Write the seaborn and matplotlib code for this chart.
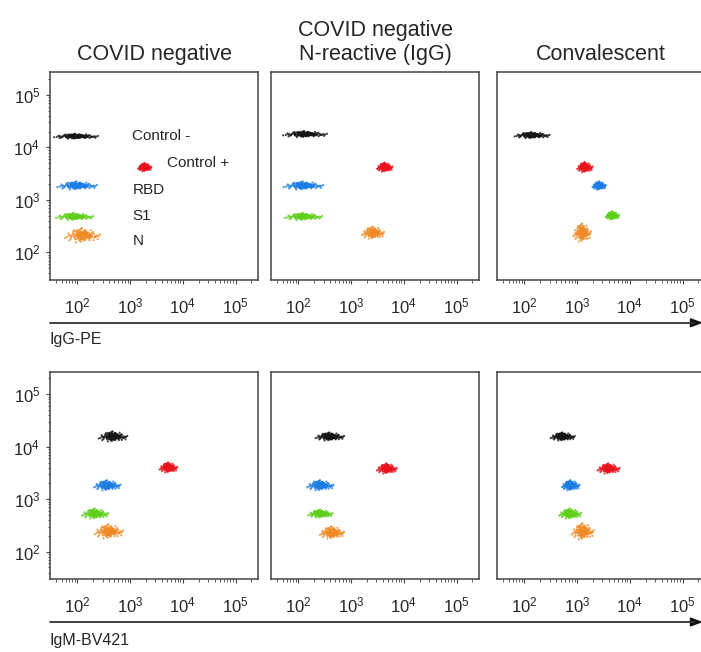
import numpy as np
import pandas as pd
import matplotlib.pyplot as plt
import seaborn as sns
from matplotlib.ticker import LogLocator, NullFormatter

populations = ["Control -", "Control +", "RBD", "S1", "N"]
pop_colors = ["#151515", "#e8121c", "#1c7ce2", "#5fcf1c", "#f08a26"]
titles = ["COVID negative", "COVID negative\nN-reactive (IgG)", "Convalescent"]
channels = ["IgG-PE", "IgM-BV421"]

# cluster centres (log10 intensity), one row per panel, one value per population
igg_x = [[1.98, 3.28, 2.00, 1.95, 2.10],
         [2.13, 3.64, 2.10, 2.10, 3.42],
         [2.15, 3.15, 3.42, 3.67, 3.10]]
igg_y = [[4.21, 3.62, 3.27, 2.68, 2.32],
         [4.25, 3.62, 3.27, 2.68, 2.37],
         [4.23, 3.62, 3.27, 2.70, 2.37]]
igm_x = [[2.68, 3.73, 2.57, 2.34, 2.60],
         [2.60, 3.68, 2.42, 2.42, 2.64],
         [2.73, 3.60, 2.88, 2.87, 3.11]]
igm_y = [[4.19, 3.60, 3.26, 2.72, 2.38],
         [4.19, 3.58, 3.26, 2.72, 2.36],
         [4.19, 3.58, 3.26, 2.72, 2.38]]

# cluster spread (log10 units)
igg_xsd = [[0.20, 0.06, 0.18, 0.17, 0.16],
           [0.20, 0.07, 0.18, 0.17, 0.10],
           [0.16, 0.07, 0.06, 0.06, 0.08]]
igg_ysd = [[0.025, 0.04, 0.04, 0.035, 0.07],
           [0.03, 0.045, 0.04, 0.035, 0.06],
           [0.03, 0.05, 0.04, 0.04, 0.09]]
igm_xsd = [[0.13, 0.08, 0.12, 0.12, 0.13],
           [0.13, 0.09, 0.12, 0.11, 0.11],
           [0.11, 0.10, 0.08, 0.10, 0.10]]
igm_ysd = [[0.05, 0.05, 0.05, 0.05, 0.07],
           [0.04, 0.05, 0.05, 0.04, 0.06],
           [0.04, 0.05, 0.05, 0.05, 0.08]]

# shape of one bead cluster (event offsets, in units of spread)
event_dx = [-0.12, 0.85, -1.43, 0.31, 1.72, -0.66, 0.04, -0.98, 1.21, -0.27,
            0.58, -1.85, 0.93, -0.41, 0.17, 1.46, -1.12, 0.69, -0.05, -0.79,
            2.05, 0.36, -1.58, 0.11, 1.04, -0.33, -0.89, 0.52, 1.33, -0.18,
            0.77, -1.27, 0.24, -0.56, 1.61, -2.10, 0.45, -0.72, 0.08, 1.12,
            -1.01, 0.63, -0.24, 1.88, -0.47, 0.29, -1.36, 0.98, -0.09, 0.41,
            -0.61, 1.27, -1.69, 0.15, 0.71, -0.37, -1.07, 0.55, 1.52, -0.20,
            0.87, -0.83, 0.02, 1.39, -1.49, 0.34, -0.52, 0.66, -1.19, 0.21,
            1.79, -0.29, -0.94, 0.48, 0.12, -1.61, 1.09, -0.43, 0.81, -0.07]
event_dy = [0.54, 0.31, -0.88, -1.22, 0.07, 1.41, -0.64, -0.26, 0.95, 1.67,
            -0.11, -0.39, 1.53, 0.72, -0.44, -0.19, 1.05, 0.83, -0.61, -1.78,
            0.33, 0.06, -1.28, -0.57, 0.14, 1.09, -0.97, -0.38, 0.49, 1.86,
            -0.71, -0.02, 1.31, 0.81, -0.22, -0.66, 0.92, 1.19, -0.48, -0.28,
            1.44, 0.11, -0.74, -0.16, 1.52, 1.02, -0.43, -0.67, 2.01, 0.34,
            -0.09, -1.19, 0.58, 0.92, -0.53, -1.34, 0.27, 0.85, -0.36, -1.63,
            0.17, 1.11, -0.76, -0.47, 0.08, 1.38, -0.69, -0.24, 0.59, 1.46,
            -0.99, -0.31, 0.41, 0.84, -1.27, -0.05, 0.62, 0.19, -1.23, -0.88]

# dense core events (same offsets, transposed, tighter)
core_dx = [v * 0.55 for v in event_dy]
core_dy = [v * 0.55 for v in event_dx]

rows = []
for r, (cx, cy, sx, sy) in enumerate([(igg_x, igg_y, igg_xsd, igg_ysd),
                                       (igm_x, igm_y, igm_xsd, igm_ysd)]):
    for c in range(3):
        for p, pop in enumerate(populations):
            for dx, dy in zip(event_dx + core_dx, event_dy + core_dy):
                rows.append({"row": r, "col": c, "population": pop,
                             "x": 10 ** (cx[c][p] + dx * sx[c][p]),
                             "y": 10 ** (cy[c][p] + dy * sy[c][p])})
df = pd.DataFrame(rows)

sns.set_style("ticks")
plt.rcParams["font.family"] = ["Liberation Sans", "DejaVu Sans"]

fig = plt.figure(figsize=(7.01, 6.52), dpi=100)
lefts = [0.0713, 0.3866, 0.709]
bottoms = [0.571, 0.112]
w, h = 0.297, 0.318
lims = (10 ** 1.48, 10 ** 5.43)

for r in range(2):
    for c in range(3):
        ax = fig.add_axes([lefts[c], bottoms[r], w, h])
        sub = df[(df.row == r) & (df.col == c)]
        sns.scatterplot(data=sub, x="x", y="y", hue="population",
                        hue_order=populations, palette=pop_colors,
                        s=2.5, linewidth=0, alpha=0.8, legend=False, ax=ax)
        ax.set_xscale("log")
        ax.set_yscale("log")
        ax.set_xlim(lims)
        ax.set_ylim(lims)
        ax.set_xticks([1e2, 1e3, 1e4, 1e5])
        ax.set_yticks([1e2, 1e3, 1e4, 1e5])
        ax.xaxis.set_minor_locator(LogLocator(base=10, subs=np.arange(2, 10)))
        ax.yaxis.set_minor_locator(LogLocator(base=10, subs=np.arange(2, 10)))
        ax.xaxis.set_minor_formatter(NullFormatter())
        ax.yaxis.set_minor_formatter(NullFormatter())
        ax.tick_params(axis="x", which="major", direction="out", length=3,
                       pad=9, labelsize=12, color="#444444")
        ax.tick_params(axis="y", which="major", direction="out", length=3,
                       pad=4, labelsize=12, color="#444444",
                       labelleft=(c == 0))
        ax.tick_params(which="minor", direction="out", length=1.8,
                       color="#444444")
        if c > 0:
            ax.tick_params(axis="y", which="both", left=False)
        for s in ax.spines.values():
            s.set_visible(True)
            s.set_color("#444444")
            s.set_linewidth(1.1)
        ax.set_xlabel("")
        ax.set_ylabel("")
        if r == 0:
            ax.set_title(titles[c], fontsize=15.5, pad=9, linespacing=1.15)
        if r == 0 and c == 0:
            ax.text(1100, 10 ** 4.21, "Control -", fontsize=11, va="center")
            ax.text(5100, 10 ** 3.71, "Control +", fontsize=11, va="center")
            ax.text(1100, 10 ** 3.18, "RBD", fontsize=11, va="center")
            ax.text(1100, 10 ** 2.70, "S1", fontsize=11, va="center")
            ax.text(1100, 10 ** 2.21, "N", fontsize=11, va="center")

# channel arrows under each row
for ya, yl, lab in [(0.505, 0.479, channels[0]), (0.046, 0.018, channels[1])]:
    fig.add_artist(plt.Line2D([0.0713, 0.99], [ya, ya], color="#333333",
                              lw=1.3, transform=fig.transFigure))
    fig.patches.append(plt.Polygon([[0.985, ya + 0.006], [1.0, ya],
                                    [0.985, ya - 0.006]], closed=True,
                                   color="#111111", transform=fig.transFigure))
    fig.text(0.0713, yl, lab, fontsize=11.5, va="center", ha="left")

fig.savefig("out.png", dpi=100)
